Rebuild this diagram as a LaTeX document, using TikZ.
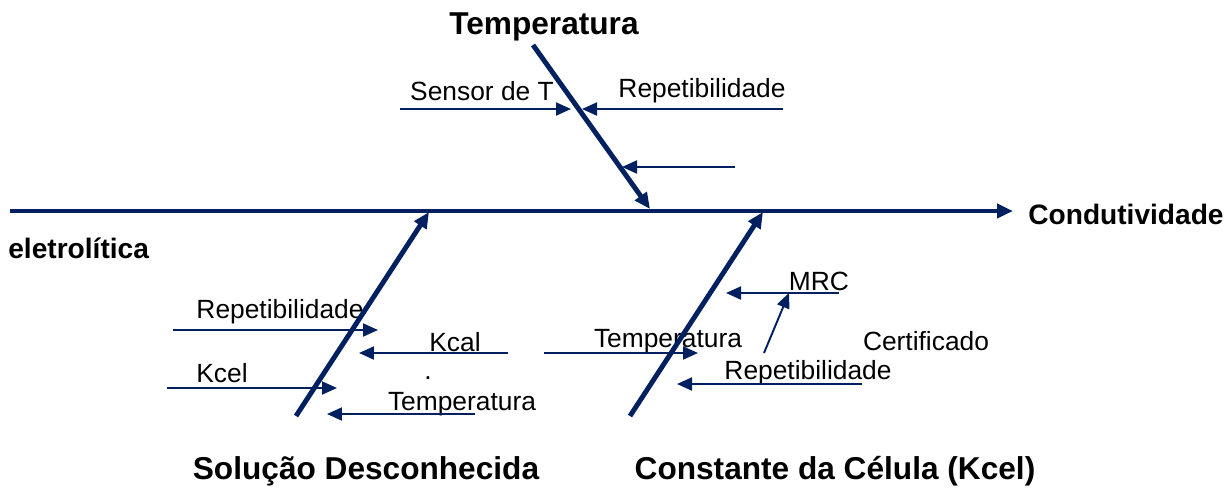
\documentclass[tikz,border=0pt]{standalone}
\usepackage{fontspec}
\setmainfont{Liberation Sans}
\usetikzlibrary{arrows.meta}

\definecolor{navy}{RGB}{0,32,96}

\tikzset{
  bone/.style = {draw=navy, line width=2.8pt, -{Triangle[length=3.2mm, width=2.8mm]}},
  rib/.style = {draw=navy, line width=1.1pt, -{Triangle[length=3mm, width=2.6mm]}},
  heading/.style = {inner sep=0pt, font=\bfseries\fontsize{18}{21}\selectfont},
  effect/.style = {inner sep=0pt, font=\bfseries\fontsize{16}{19}\selectfont},
  cause/.style = {inner sep=0pt, font=\fontsize{15}{18}\selectfont}
}

\begin{document}
\begin{tikzpicture}[x=0.02cm, y=-0.02cm]
    \useasboundingbox (0,0) rectangle (1232,491);

    % end points of the bones
    \coordinate (spineA) at (10,211);
    \coordinate (spineB) at (1013,211);
    \coordinate (tempA)  at (533,45);
    \coordinate (tempB)  at (650,209);
    \coordinate (solA)   at (296,416);
    \coordinate (solB)   at (429,212);
    \coordinate (celA)   at (630,416);
    \coordinate (celB)   at (763,212);

    % end points of the ribs
    \coordinate (sensA) at (400,109);  \coordinate (sensB) at (571,109);
    \coordinate (trepA) at (783,109);  \coordinate (trepB) at (582,109);
    \coordinate (blnkA) at (735,167);  \coordinate (blnkB) at (622,167);
    \coordinate (srepA) at (173,330);  \coordinate (srepB) at (378,330);
    \coordinate (kcalA) at (508,353);  \coordinate (kcalB) at (359,353);
    \coordinate (kcelA) at (167,388);  \coordinate (kcelB) at (337,388);
    \coordinate (stmpA) at (475,414);  \coordinate (stmpB) at (327,414);
    \coordinate (ctmpA) at (544,353);  \coordinate (ctmpB) at (698,353);
    \coordinate (mrcA)  at (839,293);  \coordinate (mrcB)  at (726,293);
    \coordinate (certA) at (764,353);  \coordinate (certB) at (789,293);
    \coordinate (crepA) at (862,384);  \coordinate (crepB) at (677,384);

    % labels
    \node[heading] (temp) at (544,27) {Temperatura};
    \node[heading] (sol)  at (366,471) {Solução Desconhecida};
    \node[heading] (cel)  at (835,471) {Constante da Célula (Kcel)};
    \node[effect, anchor=west] (cond) at (1028,214) {Condutividade};
    \node[effect, anchor=west] (elet) at (8,248) {eletrolítica};

    \node[cause] (sens) at (482,91)  {Sensor de T};
    \node[cause] (trep) at (702,91)  {Repetibilidade};
    \node[cause] (srep) at (280,312) {Repetibilidade};
    \node[cause] (kcal) at (455,342) {Kcal};
    \node[cause] (kcel) at (222,373) {Kcel};
    \node[cause] (dot)  at (428,378) {.};
    \node[cause] (stmp) at (462,404) {Temperatura};
    \node[cause] (ctmp) at (668,341) {Temperatura};
    \node[cause] (mrc)  at (819,281) {MRC};
    \node[cause] (cert) at (926,341) {Certificado};
    \node[cause] (crep) at (808,373) {Repetibilidade};

    % bones
    \draw[bone] (spineA) -- (spineB);
    \draw[bone] (tempA) -- (tempB);
    \draw[bone] (solA) -- (solB);
    \draw[bone] (celA) -- (celB);

    % ribs
    \draw[rib] (sensA) -- (sensB);
    \draw[rib] (trepA) -- (trepB);
    \draw[rib] (blnkA) -- (blnkB);
    \draw[rib] (srepA) -- (srepB);
    \draw[rib] (kcalA) -- (kcalB);
    \draw[rib] (kcelA) -- (kcelB);
    \draw[rib] (stmpA) -- (stmpB);
    \draw[rib] (ctmpA) -- (ctmpB);
    \draw[rib] (mrcA) -- (mrcB);
    \draw[rib] (certA) -- (certB);
    \draw[rib] (crepA) -- (crepB);
\end{tikzpicture}
\end{document}
